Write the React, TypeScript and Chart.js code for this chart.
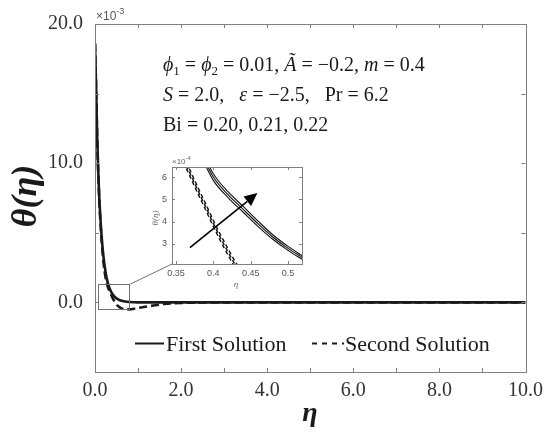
import React, { useEffect, useRef } from 'react';
import { Chart, registerables } from 'chart.js';

Chart.register(...registerables);

// ---------- Main chart data (θ in units of 10^-3) ----------
const etaMain = [0, 0.025, 0.05, 0.075, 0.1, 0.15, 0.2, 0.25, 0.3, 0.35, 0.4, 0.45, 0.5, 0.55, 0.6, 0.7, 0.8, 0.9, 1.0, 1.2, 1.4, 1.6, 1.8, 2.0, 2.5, 3.0, 4.0, 6.0, 8.0, 10.0];
const firstSolution = [18.6, 15.5, 12.0, 9.4, 7.5, 4.9, 3.2, 2.1, 1.37, 0.92, 0.62, 0.43, 0.29, 0.2, 0.13, 0.06, 0.025, 0.01, 0.004, 0, 0, 0, 0, 0, 0, 0, 0, 0, 0, 0];
const secondSolution = [18.6, 15.5, 12.0, 9.3, 7.3, 4.6, 2.8, 1.7, 1.1, 0.72, 0.38, 0.08, -0.15, -0.3, -0.41, -0.5, -0.5, -0.46, -0.4, -0.3, -0.2, -0.12, -0.07, -0.04, -0.01, 0, 0, 0, 0, 0];

const xTicksMain = [0, 1, 2, 3, 4, 5, 6, 7, 8, 9, 10];
const xTickLabelsMain = ['0.0', '', '2.0', '', '4.0', '', '6.0', '', '8.0', '', '10.0'];
const yTicksMain = [-5, 0, 5, 10, 15, 20];
const yTickLabelsMain = ['', '0.0', '', '10.0', '', '20.0'];

// zoom rectangle (data coords of main chart)
const zoomEta = [0.07, 0.79];
const zoomTheta = [-0.5, 1.3];

// ---------- Inset data (θ in units of 10^-4) ----------
const etaInsetFirst = [0.38, 0.4, 0.42, 0.44, 0.46, 0.48, 0.5, 0.52];
const insetFirstBi020 = [7.2, 5.85, 5.07, 4.42, 3.78, 3.2, 2.71, 2.29];
const insetFirstBi021 = [7.35, 6.0, 5.2, 4.55, 3.9, 3.3, 2.8, 2.37];
const insetFirstBi022 = [7.5, 6.15, 5.33, 4.68, 4.02, 3.4, 2.89, 2.45];
const etaInsetSecond = [0.36, 0.37, 0.38, 0.39, 0.4, 0.41, 0.42, 0.43, 0.44];
const insetSecondBi020 = [6.66, 5.94, 5.21, 4.51, 3.78, 3.11, 2.48, 1.89, 1.36];
const insetSecondBi021 = [6.8, 6.08, 5.35, 4.65, 3.92, 3.25, 2.62, 2.03, 1.5];
const insetSecondBi022 = [6.94, 6.22, 5.49, 4.79, 4.06, 3.39, 2.76, 2.17, 1.64];
const insetXTicks = [0.35, 0.4, 0.45, 0.5];
const insetXTickLabels = ['0.35', '0.4', '0.45', '0.5'];
const insetYTicks = [3, 4, 5, 6];
const insetYTickLabels = ['3', '4', '5', '6'];
const arrowFrom = [0.3687, 2.83];
const arrowTo = [0.459, 5.28];

// ---------- layout constants ----------
const W = 550;
const H = 434;
const INSET_LEFT = 140;
const INSET_TOP = 150;
const INSET_W = 170;
const INSET_H = 140;

const SERIF = "'Liberation Serif', 'Times New Roman', 'DejaVu Serif', serif";
const SANS = "'Liberation Sans', Arial, 'DejaVu Sans', sans-serif";
const INK = '#1a1a1a';
const AXIS = '#808080';

const pts = (xs: number[], ys: number[]) => xs.map((x, i) => ({ x, y: ys[i] }));

type Run = { t: string; f: string; dy?: number };
function drawRuns(ctx: CanvasRenderingContext2D, x: number, y: number, runs: Run[]) {
  let cx = x;
  for (const r of runs) {
    ctx.font = r.f;
    ctx.fillText(r.t, cx, y + (r.dy || 0));
    cx += ctx.measureText(r.t).width;
  }
}

function drawBoxAndTicks(chart: any, xt: number[], yt: number[], len: number, color: string) {
  const { ctx, chartArea: a, scales } = chart;
  ctx.save();
  ctx.strokeStyle = color;
  ctx.lineWidth = 1;
  ctx.strokeRect(Math.round(a.left) + 0.5, Math.round(a.top) + 0.5, Math.round(a.right - a.left), Math.round(a.bottom - a.top));
  ctx.beginPath();
  for (const v of xt) {
    const px = Math.round(scales.x.getPixelForValue(v)) + 0.5;
    ctx.moveTo(px, a.bottom);
    ctx.lineTo(px, a.bottom - len);
    ctx.moveTo(px, a.top);
    ctx.lineTo(px, a.top + len);
  }
  for (const v of yt) {
    const py = Math.round(scales.y.getPixelForValue(v)) + 0.5;
    ctx.moveTo(a.left, py);
    ctx.lineTo(a.left + len, py);
    ctx.moveTo(a.right, py);
    ctx.lineTo(a.right - len, py);
  }
  ctx.stroke();
  ctx.restore();
}

const mainPlugin = {
  id: 'mainDecor',
  afterDraw(chart: any) {
    const { ctx, scales } = chart;
    drawBoxAndTicks(chart, xTicksMain, yTicksMain, 4, AXIS);

    ctx.save();
    // zoom rectangle
    const rx0 = scales.x.getPixelForValue(zoomEta[0]);
    const rx1 = scales.x.getPixelForValue(zoomEta[1]);
    const ry0 = scales.y.getPixelForValue(zoomTheta[1]);
    const ry1 = scales.y.getPixelForValue(zoomTheta[0]);
    ctx.strokeStyle = '#707070';
    ctx.lineWidth = 1;
    ctx.strokeRect(Math.round(rx0) + 0.5, Math.round(ry0) + 0.5, Math.round(rx1 - rx0), Math.round(ry1 - ry0));
    // connector to inset
    ctx.beginPath();
    ctx.moveTo(Math.round(rx1) + 0.5, Math.round(ry0) + 0.5);
    ctx.lineTo(INSET_LEFT + 32, INSET_TOP + 114);
    ctx.stroke();

    // ×10^-3
    ctx.fillStyle = '#555';
    ctx.textBaseline = 'alphabetic';
    ctx.textAlign = 'left';
    drawRuns(ctx, 96, 20, [
      { t: '×10', f: `12px ${SANS}` },
      { t: '-3', f: `9px ${SANS}`, dy: -6 },
    ]);

    // annotation text
    ctx.fillStyle = INK;
    const it = `italic 20px ${SERIF}`;
    const rg = `20px ${SERIF}`;
    const sb = `13px ${SERIF}`;
    drawRuns(ctx, 163, 71, [
      { t: 'ϕ', f: it }, { t: '1', f: sb, dy: 4 }, { t: ' = ', f: rg },
      { t: 'ϕ', f: it }, { t: '2', f: sb, dy: 4 }, { t: ' = 0.01, ', f: rg },
      { t: 'Ã', f: it }, { t: ' = −0.2, ', f: rg },
      { t: 'm', f: it }, { t: ' = 0.4', f: rg },
    ]);
    drawRuns(ctx, 163, 101, [
      { t: 'S', f: it }, { t: ' = 2.0,   ', f: rg },
      { t: 'ε', f: it }, { t: ' = −2.5,   ', f: rg },
      { t: 'Pr = 6.2', f: rg },
    ]);
    drawRuns(ctx, 163, 131, [{ t: 'Bi = 0.20, 0.21, 0.22', f: rg }]);

    // legend
    ctx.strokeStyle = INK;
    ctx.lineWidth = 2;
    ctx.beginPath();
    ctx.moveTo(135, 343.5);
    ctx.lineTo(164, 343.5);
    ctx.stroke();
    ctx.setLineDash([5, 5]);
    ctx.beginPath();
    ctx.moveTo(312, 343.5);
    ctx.lineTo(344, 343.5);
    ctx.stroke();
    ctx.setLineDash([]);
    ctx.font = `22px ${SERIF}`;
    ctx.fillText('First Solution', 166, 351);
    ctx.fillText('Second Solution', 345, 351);

    // axis titles
    ctx.font = `bold italic 28px ${SERIF}`;
    ctx.textAlign = 'center';
    ctx.fillText('η', 310, 421);
    ctx.translate(36, 196);
    ctx.rotate(-Math.PI / 2);
    ctx.font = `bold italic 36px ${SERIF}`;
    ctx.fillText('θ(η)', 0, 0);
    ctx.restore();
  },
};

const insetPlugin = {
  id: 'insetDecor',
  afterDraw(chart: any) {
    const { ctx, scales } = chart;
    drawBoxAndTicks(chart, insetXTicks, insetYTicks, 3, AXIS);
    ctx.save();
    // arrow
    const x0 = scales.x.getPixelForValue(arrowFrom[0]);
    const y0 = scales.y.getPixelForValue(arrowFrom[1]);
    const x1 = scales.x.getPixelForValue(arrowTo[0]);
    const y1 = scales.y.getPixelForValue(arrowTo[1]);
    const ang = Math.atan2(y1 - y0, x1 - x0);
    const hl = 13;
    const hw = 6;
    const bx = x1 - hl * Math.cos(ang);
    const by = y1 - hl * Math.sin(ang);
    ctx.strokeStyle = '#000';
    ctx.fillStyle = '#000';
    ctx.lineWidth = 1.6;
    ctx.beginPath();
    ctx.moveTo(x0, y0);
    ctx.lineTo(bx, by);
    ctx.stroke();
    ctx.beginPath();
    ctx.moveTo(x1, y1);
    ctx.lineTo(bx + hw * Math.sin(ang), by - hw * Math.cos(ang));
    ctx.lineTo(bx - hw * Math.sin(ang), by + hw * Math.cos(ang));
    ctx.closePath();
    ctx.fill();

    // ×10^-4
    ctx.fillStyle = '#666';
    ctx.textAlign = 'left';
    ctx.textBaseline = 'alphabetic';
    drawRuns(ctx, 32, 14, [
      { t: '×10', f: `8px ${SANS}` },
      { t: '-4', f: `6px ${SANS}`, dy: -4 },
    ]);
    // titles
    ctx.textAlign = 'center';
    ctx.font = `italic 9px ${SERIF}`;
    ctx.fillText('η', 96, 137);
    ctx.translate(18, 68);
    ctx.rotate(-Math.PI / 2);
    ctx.fillText('θ(η)', 0, 0);
    ctx.restore();
  },
};

export default function App() {
  const mainRef = useRef<HTMLCanvasElement | null>(null);
  const insetRef = useRef<HTMLCanvasElement | null>(null);

  useEffect(() => {
    if (!mainRef.current || !insetRef.current) return;
    const tickFontMain = { family: SERIF, size: 20 };

    const main = new Chart(mainRef.current, {
      type: 'line',
      data: {
        datasets: [
          {
            label: 'First Solution',
            data: pts(etaMain, firstSolution),
            borderColor: INK,
            borderWidth: 2.6,
            pointRadius: 0,
            fill: false,
            cubicInterpolationMode: 'monotone',
          },
          {
            label: 'Second Solution',
            data: pts(etaMain, secondSolution),
            borderColor: INK,
            borderWidth: 2.6,
            borderDash: [8, 4],
            pointRadius: 0,
            fill: false,
            cubicInterpolationMode: 'monotone',
          },
        ],
      },
      options: {
        animation: false,
        responsive: false,
        events: [],
        layout: { padding: { left: 0, top: 22, right: 23, bottom: 0 } },
        plugins: { legend: { display: false }, tooltip: { enabled: false }, title: { display: false } },
        scales: {
          x: {
            type: 'linear',
            min: 0,
            max: 10,
            afterBuildTicks: (s: any) => { s.ticks = xTicksMain.map((v) => ({ value: v })); },
            afterFit: (s: any) => { s.height = 62; },
            grid: { display: false, drawTicks: false },
            border: { display: false },
            ticks: {
              autoSkip: false,
              maxRotation: 0,
              padding: 7,
              color: '#333',
              font: tickFontMain,
              callback: (_v: any, i: number) => xTickLabelsMain[i],
            },
          },
          y: {
            type: 'linear',
            min: -5,
            max: 20,
            afterBuildTicks: (s: any) => { s.ticks = yTicksMain.map((v) => ({ value: v })); },
            afterFit: (s: any) => { s.width = 95; },
            grid: { display: false, drawTicks: false },
            border: { display: false },
            ticks: {
              autoSkip: false,
              padding: 12,
              color: '#333',
              font: tickFontMain,
              callback: (_v: any, i: number) => yTickLabelsMain[i],
            },
          },
        },
      },
      plugins: [mainPlugin],
    } as any);

    const insetLine = (xs: number[], ys: number[], dashed: boolean) => ({
      data: pts(xs, ys),
      borderColor: '#111',
      borderWidth: dashed ? 1.4 : 1.1,
      borderDash: dashed ? [4, 3] : [],
      pointRadius: 0,
      fill: false,
      cubicInterpolationMode: 'monotone',
    });
    const tickFontInset = { family: SANS, size: 9 };

    const inset = new Chart(insetRef.current, {
      type: 'line',
      data: {
        datasets: [
          insetLine(etaInsetFirst, insetFirstBi020, false),
          insetLine(etaInsetFirst, insetFirstBi021, false),
          insetLine(etaInsetFirst, insetFirstBi022, false),
          insetLine(etaInsetSecond, insetSecondBi020, true),
          insetLine(etaInsetSecond, insetSecondBi021, true),
          insetLine(etaInsetSecond, insetSecondBi022, true),
        ],
      },
      options: {
        animation: false,
        responsive: false,
        events: [],
        layout: { padding: { left: 0, top: 17, right: 8, bottom: 0 } },
        plugins: { legend: { display: false }, tooltip: { enabled: false } },
        scales: {
          x: {
            type: 'linear',
            min: 0.3447,
            max: 0.5187,
            afterBuildTicks: (s: any) => { s.ticks = insetXTicks.map((v) => ({ value: v })); },
            afterFit: (s: any) => { s.height = 26; },
            grid: { display: false, drawTicks: false },
            border: { display: false },
            ticks: {
              autoSkip: false,
              maxRotation: 0,
              padding: 4,
              color: '#555',
              font: tickFontInset,
              callback: (_v: any, i: number) => insetXTickLabels[i],
            },
          },
          y: {
            type: 'linear',
            min: 2.1,
            max: 6.45,
            afterBuildTicks: (s: any) => { s.ticks = insetYTicks.map((v) => ({ value: v })); },
            afterFit: (s: any) => { s.width = 32; },
            grid: { display: false, drawTicks: false },
            border: { display: false },
            ticks: {
              autoSkip: false,
              padding: 5,
              color: '#555',
              font: tickFontInset,
              callback: (_v: any, i: number) => insetYTickLabels[i],
            },
          },
        },
      },
      plugins: [insetPlugin],
    } as any);

    return () => {
      main.destroy();
      inset.destroy();
    };
  }, []);

  return (
    <div style={{ position: 'absolute', left: 0, top: 0, width: W, height: H, background: '#fff' }}>
      <canvas ref={mainRef} width={W} height={H} style={{ position: 'absolute', left: 0, top: 0, width: W, height: H }} />
      <canvas
        ref={insetRef}
        width={INSET_W}
        height={INSET_H}
        style={{ position: 'absolute', left: INSET_LEFT, top: INSET_TOP, width: INSET_W, height: INSET_H }}
      />
    </div>
  );
}
